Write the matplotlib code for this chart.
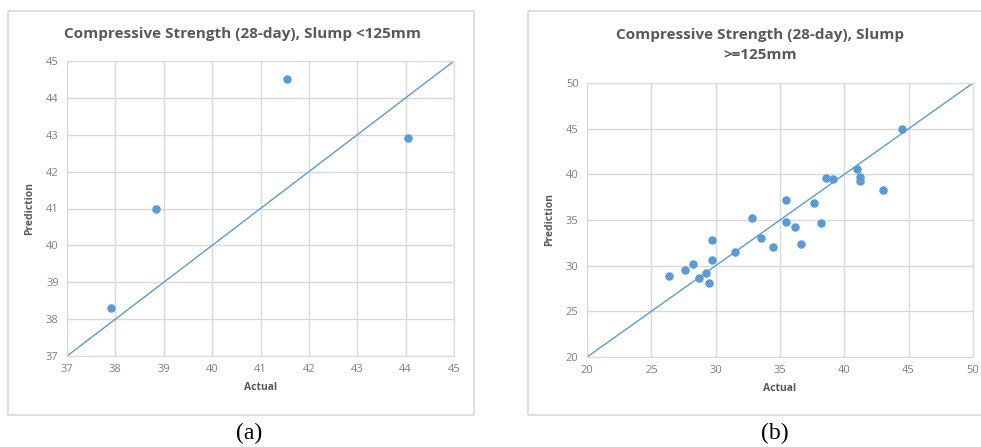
import matplotlib
matplotlib.use("Agg")
import matplotlib.pyplot as plt
from matplotlib.patches import Rectangle

# Panel (a): slump < 125mm
actual_a = [37.9, 38.85, 41.55, 44.05]
pred_a = [38.3, 41.0, 44.5, 42.9]

# Panel (b): slump >= 125mm
actual_b = [26.4, 27.6, 28.25, 28.7, 29.25, 29.5, 29.75, 29.75, 31.5, 32.85,
            33.5, 34.45, 35.5, 35.5, 36.15, 36.6, 37.65, 38.2, 38.6, 39.1,
            41.0, 41.25, 41.25, 43.0, 44.5]
pred_b = [28.9, 29.5, 30.15, 28.7, 29.25, 28.05, 32.85, 30.6, 31.45, 35.2,
          33.0, 32.0, 37.2, 34.8, 34.2, 32.35, 36.85, 34.7, 39.55, 39.45,
          40.6, 39.7, 39.3, 38.3, 44.95]

title_a = "Compressive Strength (28-day), Slump <125mm"
title_b = "Compressive Strength (28-day), Slump\n>=125mm"

W, H = 981, 447
blue = "#5B9BD5"
grid = "#D9D9D9"
txt = "#595959"
tick_c = "#7F7F7F"
font = "Open Sans"

fig = plt.figure(figsize=(W / 100, H / 100), dpi=100)


def px_axes(x0, y0, x1, y1):
    return fig.add_axes([x0 / W, 1 - y1 / H, (x1 - x0) / W, (y1 - y0) / H])


def box(x0, y0, x1, y1):
    fig.patches.append(Rectangle((x0 / W, 1 - y1 / H), (x1 - x0) / W, (y1 - y0) / H,
                                 transform=fig.transFigure, fill=False,
                                 edgecolor=grid, linewidth=1.2))


def style(ax, lo, hi, step):
    ax.set_xlim(lo, hi)
    ax.set_ylim(lo, hi)
    ticks = list(range(lo, hi + 1, step))
    ax.set_xticks(ticks)
    ax.set_yticks(ticks)
    ax.grid(True, color=grid, linewidth=1.0)
    ax.set_axisbelow(True)
    for s in ax.spines.values():
        s.set_color(grid)
    ax.tick_params(length=0, labelsize=8, labelcolor=tick_c, pad=6)
    for lab in ax.get_xticklabels() + ax.get_yticklabels():
        lab.set_fontfamily(font)
    ax.plot([lo, hi], [lo, hi], color=blue, linewidth=1.0)
    ax.set_xlabel("Actual", fontsize=7.5, fontweight="bold", color=txt, family=font, labelpad=5)
    ax.set_ylabel("Prediction", fontsize=7.5, fontweight="bold", color=txt, family=font, labelpad=8)


box(8, 11, 474, 415)
box(528, 11, 990, 415)

ax1 = px_axes(67, 61, 454, 356)
style(ax1, 37, 45, 1)
ax1.scatter(actual_a, pred_a, s=26, color=blue, zorder=3)

ax2 = px_axes(587, 83, 973, 357)
style(ax2, 20, 50, 5)
ax2.scatter(actual_b, pred_b, s=26, color=blue, zorder=3)

fig.text(242 / W, 1 - 34 / H, title_a, ha="center", va="center", fontsize=11,
         fontweight="bold", color=txt, family=font)
fig.text(760 / W, 1 - 45 / H, title_b, ha="center", va="center", fontsize=11,
         fontweight="bold", color=txt, family=font, linespacing=1.55)

fig.text(249 / W, 1 - 433 / H, "(a)", ha="center", va="center", fontsize=17,
         family="Liberation Serif", color="black")
fig.text(775 / W, 1 - 433 / H, "(b)", ha="center", va="center", fontsize=17,
         family="Liberation Serif", color="black")

fig.savefig("out.png", dpi=100)
